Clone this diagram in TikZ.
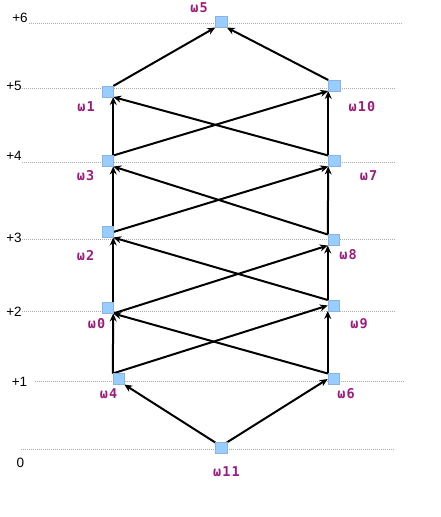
\documentclass[tikz,border=0pt]{standalone}
\usepackage{fontspec}
\usetikzlibrary{arrows.meta,backgrounds}
\newfontfamily\lblfont[LetterSpace=8]{DejaVu Sans Mono}
\newfontfamily\lvlfont{Liberation Sans}
\definecolor{sqfill}{HTML}{99CCFF}
\definecolor{sqedge}{HTML}{88B4E0}
\definecolor{lblcol}{HTML}{9C1C7C}
\definecolor{gridcol}{HTML}{AAAAAA}
\begin{document}
\begin{tikzpicture}[x=1pt,y=-1pt,
  sq/.style={draw=sqedge, line width=0.4pt, fill=sqfill, minimum width=11.5pt, minimum height=11pt, inner sep=0pt, outer sep=0pt},
  lbl/.style={text=lblcol, font=\lblfont\bfseries\fontsize{13.5}{15}\selectfont, inner sep=0pt},
  lvl/.style={font=\lvlfont\fontsize{13.5}{15}\selectfont, inner sep=0pt},
  gridline/.style={gridcol, line width=0.6pt, dash pattern=on 1pt off 1pt},
  edge/.style={line width=2pt, -{Stealth[length=8pt,width=7pt]}}
]
\useasboundingbox (0,0) rectangle (441,517);

% level labels
\node[lvl] (lv6) at (20,17.5) {+6};
\node[lvl] (lv5) at (14,86) {+5};
\node[lvl] (lv4) at (14,156) {+4};
\node[lvl] (lv3) at (14,238) {+3};
\node[lvl] (lv2) at (14,312) {+2};
\node[lvl] (lv1) at (19.5,382) {+1};
\node[lvl] (lv0) at (20.5,463) {0};

% nodes
\node[sq] (w5)  at (221,22) {};
\node[sq] (w1)  at (107.5,91.5) {};
\node[sq] (w10) at (334,85.5) {};
\node[sq] (w3)  at (107.5,161) {};
\node[sq] (w7)  at (334,161) {};
\node[sq] (w2)  at (107.5,232) {};
\node[sq] (w8)  at (333.5,240) {};
\node[sq] (w0)  at (107.5,308) {};
\node[sq] (w9)  at (333.5,305.5) {};
\node[sq] (w4)  at (118.5,379) {};
\node[sq] (w6)  at (333.5,379) {};
\node[sq] (w11) at (221,448) {};

% node labels
\node[lbl] (l5)  at (199,8) {ω5};
\node[lbl] (l1)  at (86,107) {ω1};
\node[lbl] (l10) at (362,107) {ω10};
\node[lbl] (l3)  at (85.5,176) {ω3};
\node[lbl] (l7)  at (368.5,176) {ω7};
\node[lbl] (l2)  at (85.5,256) {ω2};
\node[lbl] (l8)  at (348,255) {ω8};
\node[lbl] (l0)  at (96.5,324) {ω0};
\node[lbl] (l9)  at (359,324) {ω9};
\node[lbl] (l4)  at (108.5,394) {ω4};
\node[lbl] (l6)  at (346,394) {ω6};
\node[lbl] (l11) at (226.5,472) {ω11};

\begin{pgfonlayer}{background}
% grid lines
\draw[gridline] (29,23) -- (403,23);
\draw[gridline] (22,88) -- (396,88);
\draw[gridline] (22,162) -- (396,162);
\draw[gridline] (22,239) -- (396,239);
\draw[gridline] (22,311) -- (396,311);
\draw[gridline] (35,381) -- (405,381);
\draw[gridline] (21,449) -- (395,449);

% edges
\draw[edge] (w11.north west) -- (w4.south east);
\draw[edge] (w11.north east) -- (w6.west);
\draw[edge] (w4.north west) -- (w0.south east);
\draw[edge] (w4.north west) -- (w9.west);
\draw[edge] (w6.north west) -- (w0.south east);
\draw[edge] (w6.north west) -- (w9.south west);
\draw[edge] (w0.north east) -- (w2.south east);
\draw[edge] (w0.south east) -- (w8.south west);
\draw[edge] (w9.north west) -- (w8.south west);
\draw[edge] (w9.north west) -- (w2.south east);
\draw[edge] (w2.north east) -- (w3.south east);
\draw[edge] (w2.east) -- (w7.south west);
\draw[edge] (w8.north west) -- (w3.south east);
\draw[edge] (w8.north west) -- (w7.south west);
\draw[edge] (w3.north east) -- (w1.south east);
\draw[edge] (w3.north east) -- (w10.south west);
\draw[edge] (w7.north west) -- (w1.south east);
\draw[edge] (w7.north west) -- (w10.south west);
\draw[edge] (w1.north east) -- (w5.south west);
\draw[edge] (w10.north west) -- (w5.south east);
\end{pgfonlayer}
\end{tikzpicture}
\end{document}
